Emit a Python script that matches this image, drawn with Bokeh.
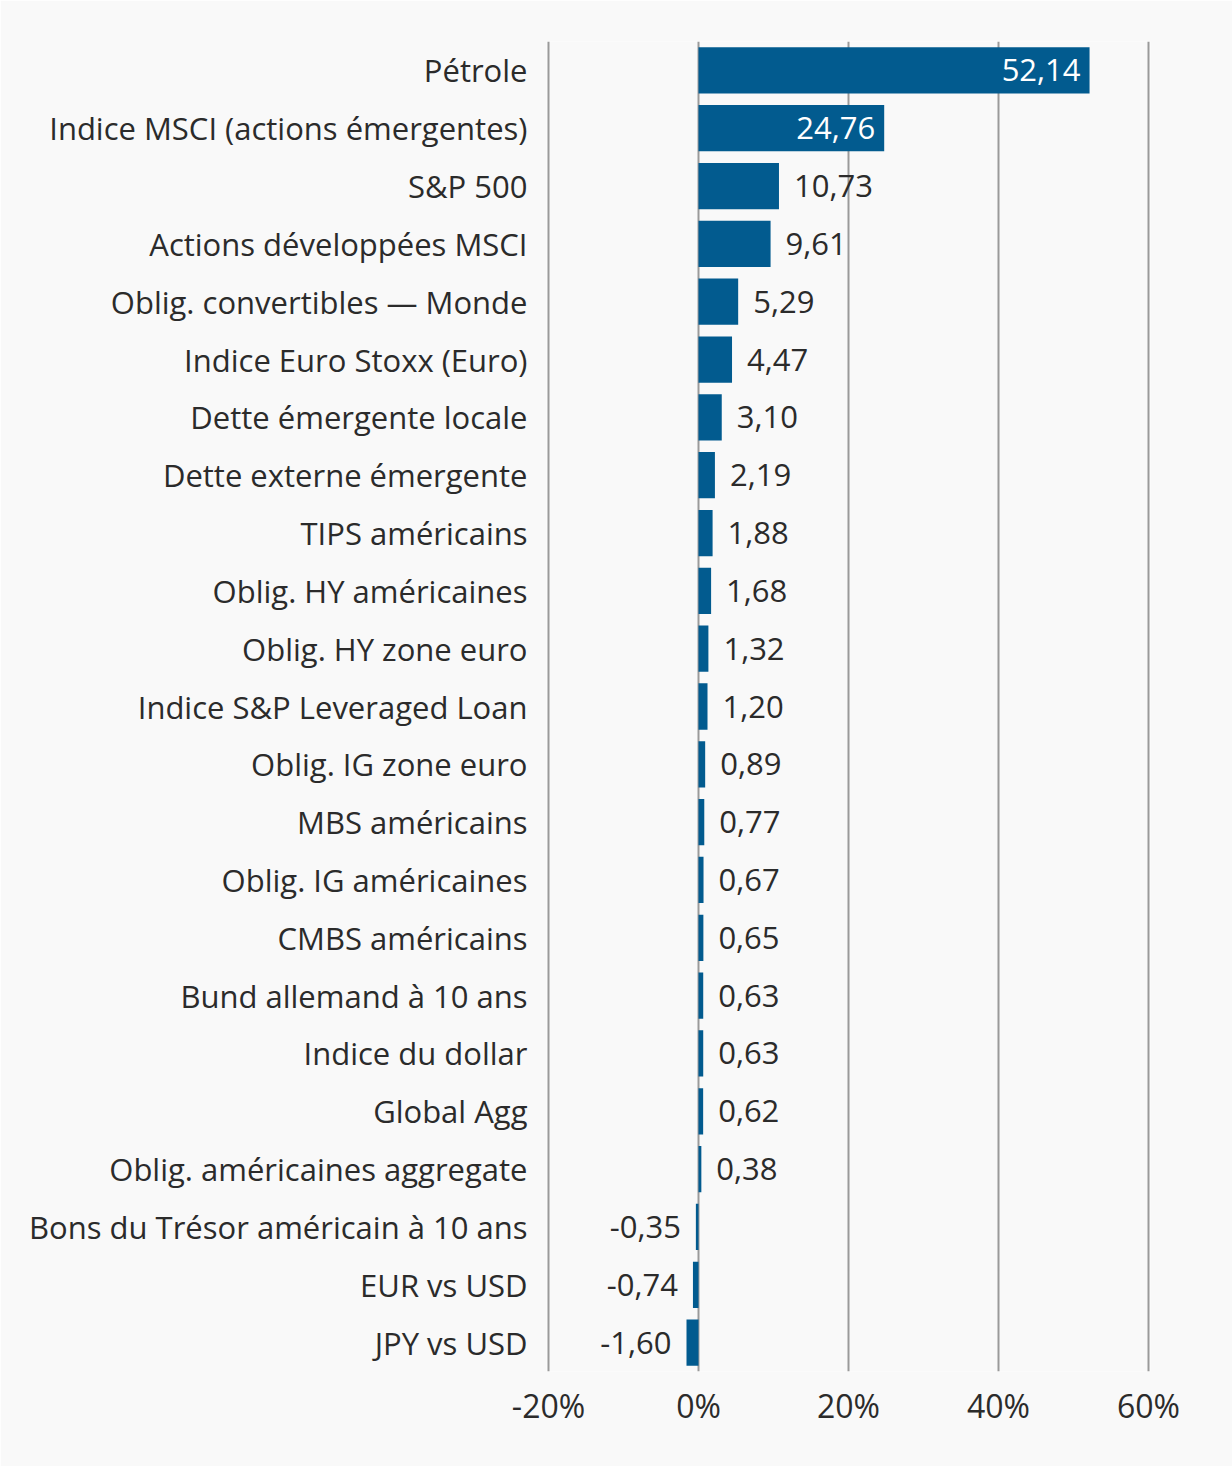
from bokeh.plotting import figure
from bokeh.models import ColumnDataSource, FixedTicker, CustomJSTickFormatter
from bokeh.core.properties import value
from bokeh.embed import file_html
from bokeh.resources import INLINE

categories = [
    "Pétrole",
    "Indice MSCI (actions émergentes)",
    "S&P 500",
    "Actions développées MSCI",
    "Oblig. convertibles — Monde",
    "Indice Euro Stoxx (Euro)",
    "Dette émergente locale",
    "Dette externe émergente",
    "TIPS américains",
    "Oblig. HY américaines",
    "Oblig. HY zone euro",
    "Indice S&P Leveraged Loan",
    "Oblig. IG zone euro",
    "MBS américains",
    "Oblig. IG américaines",
    "CMBS américains",
    "Bund allemand à 10 ans",
    "Indice du dollar",
    "Global Agg",
    "Oblig. américaines aggregate",
    "Bons du Trésor américain à 10 ans",
    "EUR vs USD",
    "JPY vs USD",
]
values = [52.14, 24.76, 10.73, 9.61, 5.29, 4.47, 3.10, 2.19, 1.88, 1.68, 1.32,
          1.20, 0.89, 0.77, 0.67, 0.65, 0.63, 0.63, 0.62, 0.38, -0.35, -0.74, -1.60]
x_ticks = [-20, 0, 20, 40, 60]

BAR = "#025b8f"
BG = "#f9f9f9"
TXT = "#2b2b2b"
FONT = "Open Sans"

labels = [f"{v:.2f}".replace(".", ",") for v in values]
inside = [v > 20 for v in values]

src_all = ColumnDataSource(dict(cat=categories, val=values, lab=labels))
src_in = ColumnDataSource(dict(
    cat=[c for c, i in zip(categories, inside) if i],
    val=[v for v, i in zip(values, inside) if i],
    lab=[l for l, i in zip(labels, inside) if i]))
src_pos = ColumnDataSource(dict(
    cat=[c for c, i, v in zip(categories, inside, values) if not i and v >= 0],
    val=[v for c, i, v in zip(categories, inside, values) if not i and v >= 0],
    lab=[l for l, i, v in zip(labels, inside, values) if not i and v >= 0]))
src_neg = ColumnDataSource(dict(
    cat=[c for c, v in zip(categories, values) if v < 0],
    val=[v for v in values if v < 0],
    lab=[l for l, v in zip(labels, values) if v < 0]))

pad = 2 / 7.5
p = figure(
    y_range=list(reversed(categories)),
    x_range=(-20 - pad, 60 + pad),
    frame_width=604, frame_height=1330,
    min_border_left=546, min_border_right=82,
    min_border_top=41, min_border_bottom=95,
    output_backend="svg", toolbar_location=None,
    background_fill_color=BG, border_fill_color=BG,
)
p.outline_line_color = None

p.hbar(y="cat", right="val", left=0, height=0.8, source=src_all,
       fill_color=BAR, line_color=None)

p.text(x="val", y="cat", text="lab", source=src_in, text_align="right",
       text_baseline="middle", x_offset=-9, text_color="white",
       text_font=value(FONT), text_font_size="31px")
p.text(x="val", y="cat", text="lab", source=src_pos, text_align="left",
       text_baseline="middle", x_offset=15, text_color=TXT,
       text_font=value(FONT), text_font_size="31px")
p.text(x="val", y="cat", text="lab", source=src_neg, text_align="right",
       text_baseline="middle", x_offset=-15, text_color=TXT,
       text_font=value(FONT), text_font_size="31px")

p.ygrid.grid_line_color = None
p.xgrid.grid_line_color = "#9a9a9a"
p.xgrid.grid_line_width = 2
p.xgrid.ticker = FixedTicker(ticks=x_ticks)

p.xaxis.ticker = FixedTicker(ticks=x_ticks)
p.xaxis.formatter = CustomJSTickFormatter(code="return tick + '%';")
p.xaxis.axis_line_color = None
p.xaxis.major_tick_line_color = None
p.xaxis.minor_tick_line_color = None
p.xaxis.major_label_text_font = FONT
p.xaxis.major_label_text_font_size = "32px"
p.xaxis.major_label_text_color = TXT
p.xaxis.major_label_standoff = 6

p.yaxis.axis_line_color = None
p.yaxis.major_tick_line_color = None
p.yaxis.minor_tick_line_color = None
p.yaxis.major_label_text_font = FONT
p.yaxis.major_label_text_font_size = "31px"
p.yaxis.major_label_text_color = TXT
p.yaxis.major_label_standoff = 13

open("out.html", "w").write(file_html(p, INLINE))
